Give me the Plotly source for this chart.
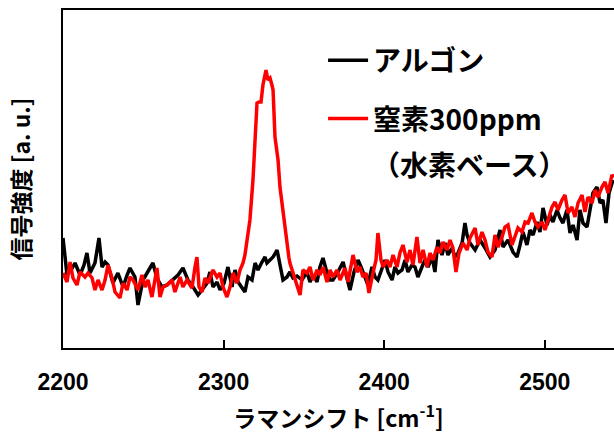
import plotly.graph_objects as go

# Raman shift [cm-1] and intensity [a.u.] — Argon
argon_x = [2200.0, 2201.2, 2202.5, 2205.0, 2207.5, 2210.6, 2213.1, 2214.9, 2216.8, 2219.9,
           2222.4, 2224.3, 2226.2, 2228.0, 2231.1, 2234.2, 2237.4, 2239.9, 2241.7, 2244.8,
           2246.7, 2249.8, 2252.9, 2256.0, 2258.5, 2261.6, 2264.8, 2268.5, 2271.6, 2274.7,
           2277.8, 2281.0, 2284.1, 2286.6, 2289.7, 2291.5, 2293.4, 2295.9, 2297.8, 2300.3,
           2302.7, 2305.2, 2307.1, 2309.0, 2311.5, 2313.3, 2315.2, 2317.7, 2319.6, 2321.4,
           2323.9, 2325.8, 2327.0, 2328.9, 2330.8, 2333.3, 2335.1, 2337.0, 2339.5, 2341.3,
           2343.2, 2345.7, 2348.8, 2351.9, 2353.8, 2355.7, 2358.2, 2360.0, 2361.9, 2364.4,
           2366.3, 2368.1, 2371.2, 2374.4, 2376.8, 2378.7, 2381.2, 2383.7, 2385.6, 2388.1,
           2389.9, 2392.4, 2394.3, 2396.1, 2398.6, 2400.5, 2402.4, 2404.9, 2406.7, 2408.6,
           2411.1, 2413.0, 2414.8, 2417.3, 2419.2, 2421.0, 2423.5, 2425.4, 2427.3, 2429.8,
           2431.6, 2433.5, 2436.0, 2437.9, 2439.7, 2442.2, 2444.1, 2446.0, 2448.5, 2450.3,
           2451.6, 2453.4, 2456.6, 2459.7, 2462.8, 2465.9, 2469.0, 2472.1, 2474.0, 2477.1,
           2480.2, 2482.7, 2484.6, 2486.4, 2488.9, 2490.8, 2492.7, 2495.2, 2497.0, 2498.9,
           2501.4, 2503.3, 2505.1, 2507.6, 2509.5, 2511.3, 2513.8, 2515.7, 2517.6, 2520.1,
           2521.9, 2523.8, 2526.3, 2528.2, 2530.0, 2532.5, 2534.4, 2536.2, 2538.1, 2540.0,
           2542.5]
argon_y = [110, 88, 73, 78, 85, 73, 83, 95, 75, 85,
           110, 81, 86, 83, 65, 75, 61, 73, 80, 71,
           43, 68, 76, 85, 70, 61, 63, 68, 73, 80,
           68, 61, 53, 58, 65, 76, 61, 66, 58, 65,
           81, 61, 78, 66, 61, 56, 71, 68, 85, 78,
           86, 91, 85, 88, 91, 98, 81, 68, 71, 76,
           70, 72, 68, 76, 66, 73, 66, 81, 90, 75,
           68, 68, 76, 86, 70, 58, 76, 88, 81, 71,
           63, 81, 71, 68, 81, 88, 76, 68, 81, 75,
           78, 88, 76, 83, 81, 71, 81, 88, 81, 91,
           76, 108, 93, 105, 93, 100, 91, 95, 105, 125,
           113, 105, 98, 108, 100, 91, 98, 118, 101, 108,
           96, 91, 103, 116, 103, 118, 113, 126, 116, 140,
           123, 133, 126, 138, 130, 125, 138, 115, 123, 108,
           138, 125, 121, 138, 155, 161, 145, 148, 125, 155,
           168]

# Nitrogen 300 ppm (hydrogen base)
n2_x = [2200.0, 2202.5, 2204.4, 2206.2, 2208.7, 2210.6, 2213.7, 2215.6, 2218.1, 2219.9,
        2221.8, 2224.3, 2226.2, 2228.0, 2230.5, 2232.4, 2235.5, 2237.4, 2239.9, 2241.7,
        2243.6, 2246.7, 2249.2, 2251.1, 2252.9, 2255.4, 2258.5, 2260.4, 2262.3, 2264.8,
        2267.9, 2269.7, 2272.9, 2274.7, 2277.2, 2280.3, 2282.2, 2283.4, 2284.7, 2286.6,
        2288.4, 2290.3, 2293.4, 2295.9, 2297.8, 2299.6, 2302.1, 2304.0, 2305.9, 2308.3,
        2310.2, 2312.1, 2313.3, 2314.6, 2316.4, 2318.3, 2319.6, 2320.8, 2322.0, 2323.3,
        2324.5, 2325.8, 2326.4, 2327.6, 2328.9, 2330.1, 2330.8, 2332.0, 2333.9, 2335.1,
        2337.0, 2338.2, 2339.5, 2340.7, 2341.3, 2343.2, 2345.7, 2347.6, 2349.4, 2351.9,
        2353.8, 2355.7, 2358.2, 2360.0, 2361.9, 2364.4, 2366.3, 2368.1, 2370.6, 2372.5,
        2375.6, 2377.5, 2380.6, 2383.1, 2384.9, 2386.8, 2388.7, 2390.5, 2393.0, 2394.9,
        2396.1, 2398.0, 2399.3, 2401.7, 2403.6, 2405.5, 2408.0, 2409.8, 2411.7, 2414.2,
        2416.1, 2417.9, 2420.4, 2422.3, 2424.2, 2426.7, 2428.5, 2430.4, 2432.9, 2434.8,
        2436.6, 2439.1, 2441.0, 2442.8, 2444.7, 2446.6, 2449.1, 2451.6, 2453.4, 2456.6,
        2458.4, 2460.9, 2462.8, 2464.6, 2467.1, 2469.0, 2470.9, 2473.4, 2475.2, 2477.1,
        2479.6, 2481.5, 2483.3, 2485.8, 2487.7, 2489.6, 2492.0, 2493.9, 2495.8, 2498.3,
        2500.1, 2502.0, 2504.5, 2506.4, 2508.2, 2510.7, 2512.6, 2514.5, 2516.9, 2518.8,
        2520.7, 2523.2, 2525.0, 2526.9, 2529.4, 2531.3, 2533.1, 2535.6, 2537.5, 2539.4,
        2541.8, 2543.1]
n2_y = [75, 66, 86, 70, 63, 76, 71, 75, 70, 58,
        68, 58, 68, 83, 70, 56, 50, 65, 58, 71,
        68, 58, 73, 61, 68, 51, 80, 51, 61, 63,
        68, 56, 71, 61, 68, 60, 81, 91, 61, 56,
        70, 65, 78, 71, 75, 61, 51, 61, 75, 65,
        78, 85, 93, 108, 128, 168, 211, 245, 246, 246,
        263, 273, 278, 268, 270, 263, 258, 211, 188, 161,
        135, 123, 101, 90, 85, 75, 61, 53, 78, 75,
        81, 68, 78, 73, 81, 66, 78, 71, 78, 68,
        80, 66, 93, 76, 81, 71, 75, 55, 75, 88,
        115, 88, 81, 88, 81, 93, 81, 95, 103, 86,
        98, 83, 111, 85, 98, 81, 95, 88, 101, 95,
        106, 98, 108, 100, 76, 95, 105, 98, 110, 120,
        103, 116, 108, 96, 91, 113, 101, 111, 121, 123,
        103, 111, 120, 116, 126, 125, 135, 126, 121, 126,
        118, 128, 141, 146, 138, 148, 153, 135, 141, 131,
        145, 153, 136, 151, 145, 158, 151, 161, 166, 155,
        173, 171]

x_ticks = [2200, 2300, 2400, 2500]
x_range = [2200, 2543.1]
y_range = [0, 338]

JP = "Noto Sans CJK JP"

fig = go.Figure()
fig.add_trace(go.Scatter(x=argon_x, y=argon_y, mode="lines", name="アルゴン",
                         legendgroup="ar",
                         line=dict(color="#000000", width=3.5)))
fig.add_trace(go.Scatter(x=n2_x, y=n2_y, mode="lines", name="窒素300ppm",
                         legendgroup="n2",
                         line=dict(color="#ff0000", width=3.5)))

fig.update_layout(
    width=614, height=434,
    margin=dict(l=63, r=0, t=10, b=86),
    paper_bgcolor="white", plot_bgcolor="white",
    showlegend=True,
    legend=dict(x=0.472, y=0.9246, xanchor="left", yanchor="top",
                font=dict(family=JP, size=28, color="black", weight="bold"),
                bgcolor="rgba(0,0,0,0)", tracegroupgap=19, traceorder="grouped",
                itemwidth=40),
    annotations=[dict(text="（水素ベース）", xref="paper", yref="paper",
                      x=0.557, y=0.5444, xanchor="left", yanchor="middle",
                      showarrow=False,
                      font=dict(family=JP, size=28, color="black", weight="bold"))],
)
fig.update_xaxes(range=x_range, tickvals=x_ticks, ticktext=[str(t) for t in x_ticks],
                 showline=True, linecolor="black", linewidth=1.5, mirror=True,
                 ticks="inside", ticklen=8, tickwidth=1.5, tickcolor="black",
                 showgrid=False, zeroline=False, ticklabelstandoff=13,
                 tickfont=dict(family="Liberation Sans", size=23, color="black", weight="bold"),
                 title=dict(text="ラマンシフト [cm<sup>-1</sup>]", standoff=18,
                            font=dict(family=JP, size=23, color="black", weight="bold")))
fig.update_yaxes(range=y_range, showline=True, linecolor="black", linewidth=1.5, mirror=False,
                 ticks="", showticklabels=False, showgrid=False, zeroline=False,
                 title=dict(text="信号強度 [a. u.]", standoff=24,
                            font=dict(family=JP, size=23, color="black", weight="bold")))

fig.write_html("out.html",
               config={"displayModeBar": False},
               post_script="document.body.style.margin='0';document.body.style.overflow='hidden';")
